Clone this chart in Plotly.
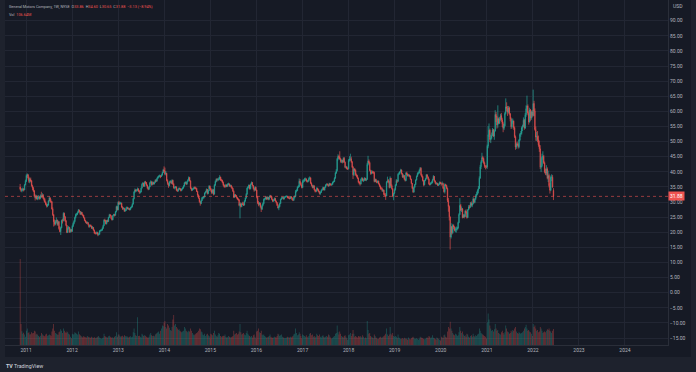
import pandas as pd
import plotly.graph_objects as go

# ---------------- weekly GM (NYSE) data ----------------
close_2010 = [34.3, 33.8, 34.0, 34.3, 34.0, 35.7, 36.9]
high_2010 = [36.0, 34.7, 34.5, 34.8, 34.6, 36.0, 37.4]
low_2010 = [33.9, 33.3, 33.2, 33.6, 33.5, 33.9, 35.5]
vol_2010 = [573, 140, 92, 75, 82, 70, 55]

close_2011 = [38.8, 39.0, 38.0, 36.8, 37.5, 37.0, 35.4, 34.6, 33.7, 32.0, 31.3, 31.9, 31.0, 31.5, 31.7, 31.2, 32.1, 31.8, 32.4, 31.3, 30.8, 30.0, 29.2, 28.7, 29.0, 30.4, 31.4, 30.2, 30.1, 27.7, 25.8, 23.5, 22.7, 23.6, 24.0, 22.6, 23.5, 21.2, 20.2, 21.5, 23.9, 23.8, 26.3, 25.1, 23.8, 22.3, 19.9, 21.3, 21.6, 20.1, 20.9, 20.3]
high_2011 = [39.2, 39.5, 39.3, 38.4, 38.0, 38.1, 37.3, 35.7, 35.0, 34.0, 32.5, 32.4, 32.3, 32.0, 32.3, 32.0, 32.5, 33.4, 33.0, 32.6, 31.6, 31.2, 30.2, 29.6, 29.4, 30.6, 31.9, 31.5, 30.9, 30.3, 28.2, 26.0, 24.2, 24.0, 24.9, 24.2, 23.9, 23.7, 22.0, 21.8, 24.2, 24.5, 26.6, 26.5, 25.4, 24.0, 22.4, 21.9, 22.1, 21.7, 21.2, 21.0]
low_2011 = [36.6, 37.9, 37.4, 36.3, 36.2, 36.6, 35.1, 33.9, 33.3, 31.6, 30.5, 31.0, 30.7, 30.6, 30.9, 30.8, 30.9, 31.4, 31.5, 31.0, 30.2, 29.7, 28.9, 28.2, 28.3, 28.8, 30.2, 29.8, 29.7, 27.5, 25.4, 21.9, 22.2, 22.3, 23.0, 22.2, 22.1, 20.8, 20.0, 19.1, 21.3, 22.9, 23.6, 23.8, 23.4, 22.0, 19.7, 19.8, 20.9, 19.8, 19.9, 20.0]
vol_2011 = [95, 110, 80, 85, 70, 72, 85, 78, 80, 95, 90, 70, 75, 68, 60, 55, 62, 80, 72, 65, 60, 58, 70, 75, 62, 65, 70, 66, 60, 90, 110, 140, 95, 80, 75, 70, 68, 85, 90, 105, 95, 80, 110, 95, 85, 80, 90, 85, 75, 70, 55, 45]

close_2012 = [22.0, 22.9, 23.6, 24.9, 25.9, 26.0, 26.6, 27.3, 26.9, 26.0, 26.6, 25.9, 25.6, 24.8, 23.9, 23.4, 23.0, 23.2, 22.5, 21.8, 22.3, 22.1, 21.3, 21.6, 20.7, 19.7, 19.7, 19.6, 19.9, 19.2, 19.3, 20.5, 20.6, 20.7, 21.3, 22.2, 24.0, 23.9, 22.8, 23.9, 23.6, 24.9, 25.8, 25.5, 24.6, 24.1, 25.5, 25.9, 25.6, 26.8, 28.5, 27.4, 29.9]
high_2012 = [22.3, 23.2, 24.0, 25.2, 26.2, 26.4, 26.9, 27.7, 27.5, 27.0, 26.9, 26.7, 26.1, 25.7, 24.9, 24.1, 23.6, 23.6, 23.3, 22.6, 22.5, 22.6, 22.2, 22.0, 21.7, 20.9, 20.2, 20.1, 20.3, 20.0, 19.7, 20.7, 20.9, 21.0, 21.6, 22.5, 24.3, 24.5, 24.0, 24.1, 24.2, 25.1, 26.1, 26.0, 25.6, 24.8, 25.7, 26.1, 26.1, 27.0, 28.8, 28.6, 30.2]
low_2012 = [20.1, 21.7, 22.6, 23.3, 24.6, 25.4, 25.7, 26.4, 26.5, 25.7, 25.8, 25.6, 25.2, 24.6, 23.7, 23.1, 22.7, 22.8, 22.3, 21.5, 21.6, 21.8, 21.1, 21.0, 20.5, 19.5, 19.3, 19.2, 19.4, 18.7, 18.9, 19.2, 20.2, 20.3, 20.5, 21.1, 22.0, 23.5, 22.6, 22.6, 23.3, 23.4, 24.7, 25.2, 24.4, 23.9, 24.0, 25.3, 25.2, 25.5, 26.6, 27.2, 27.3]
vol_2012 = [75, 70, 72, 85, 80, 75, 70, 90, 72, 65, 60, 55, 50, 58, 55, 52, 50, 60, 55, 52, 50, 48, 55, 50, 48, 52, 45, 48, 50, 55, 60, 50, 45, 42, 45, 50, 75, 60, 55, 52, 50, 58, 62, 55, 50, 48, 52, 45, 55, 60, 85, 55, 70]

close_2013 = [29.4, 29.6, 29.6, 28.3, 27.8, 27.9, 27.0, 27.2, 28.0, 28.2, 27.7, 27.8, 27.5, 28.2, 28.4, 29.3, 31.1, 33.3, 34.0, 33.8, 33.9, 34.4, 33.6, 33.2, 33.3, 34.6, 35.9, 36.2, 35.2, 36.6, 36.5, 35.6, 34.7, 34.2, 35.0, 36.4, 36.7, 35.7, 36.5, 36.0, 36.5, 37.2, 36.9, 37.8, 38.2, 38.5, 38.7, 38.4, 38.9, 39.7, 40.6, 40.2]
high_2013 = [30.4, 30.0, 30.1, 29.8, 28.6, 28.3, 28.1, 27.7, 28.3, 28.6, 28.3, 28.1, 28.0, 28.4, 28.8, 29.6, 31.3, 33.6, 34.5, 34.3, 34.3, 34.8, 34.5, 34.0, 33.8, 34.8, 36.2, 36.6, 36.4, 36.9, 37.0, 36.6, 35.8, 35.0, 35.3, 36.7, 37.2, 36.9, 36.8, 36.7, 36.8, 37.5, 37.6, 38.1, 38.6, 38.9, 39.1, 38.9, 39.2, 40.0, 41.0, 41.8]
low_2013 = [29.0, 29.1, 29.2, 28.1, 27.4, 27.5, 26.7, 26.8, 27.1, 27.8, 27.5, 27.4, 27.2, 27.3, 27.9, 28.2, 29.2, 30.9, 33.0, 33.4, 33.4, 33.6, 33.3, 32.7, 32.8, 33.2, 34.5, 35.6, 35.0, 35.1, 36.0, 35.3, 34.4, 33.9, 34.1, 34.9, 36.1, 35.4, 35.6, 35.8, 35.8, 36.4, 36.6, 36.8, 37.6, 38.0, 38.2, 37.9, 38.3, 38.8, 39.6, 39.9]
vol_2013 = [70, 60, 55, 58, 62, 55, 65, 60, 55, 60, 52, 50, 55, 58, 52, 55, 85, 110, 80, 65, 60, 185, 60, 62, 55, 50, 75, 68, 60, 65, 62, 55, 50, 48, 55, 70, 80, 65, 60, 62, 58, 70, 75, 80, 85, 90, 75, 95, 110, 130, 125, 150]

close_2014 = [39.3, 39.5, 37.1, 36.1, 35.4, 36.7, 36.8, 36.2, 37.2, 35.9, 34.7, 34.8, 35.0, 33.9, 33.6, 34.4, 34.5, 34.3, 33.8, 34.3, 34.6, 35.3, 36.3, 36.5, 35.9, 36.8, 37.2, 38.1, 37.0, 34.6, 33.9, 34.3, 34.4, 34.8, 34.6, 34.5, 33.5, 32.3, 31.3, 30.1, 29.5, 30.5, 31.4, 31.5, 31.7, 33.0, 33.4, 34.2, 32.8, 33.8, 35.3, 34.5]
high_2014 = [41.4, 40.3, 39.7, 37.5, 36.4, 36.9, 37.3, 37.0, 37.5, 37.4, 36.2, 35.2, 35.3, 35.2, 34.3, 34.6, 34.9, 34.7, 34.5, 34.5, 34.9, 35.6, 36.6, 36.9, 36.6, 37.0, 37.6, 38.5, 38.3, 37.2, 34.8, 34.6, 34.8, 35.1, 35.2, 35.0, 34.7, 33.7, 32.5, 31.5, 30.3, 30.8, 31.7, 31.9, 32.0, 33.2, 33.7, 34.5, 34.3, 34.0, 35.6, 35.4]
low_2014 = [38.9, 38.8, 36.8, 35.7, 34.7, 35.2, 36.3, 35.9, 36.0, 35.6, 34.4, 34.2, 34.5, 33.6, 33.4, 33.5, 34.0, 33.9, 33.5, 33.6, 34.1, 34.5, 35.1, 36.0, 35.6, 35.8, 36.7, 37.1, 36.8, 34.3, 33.6, 33.7, 34.0, 34.2, 34.3, 34.1, 33.3, 32.0, 31.1, 29.8, 28.8, 29.3, 30.3, 30.9, 31.1, 31.5, 32.8, 33.2, 32.5, 32.6, 33.6, 34.3]
vol_2014 = [160, 120, 110, 140, 130, 115, 100, 95, 120, 170, 200, 130, 140, 120, 110, 100, 105, 95, 90, 85, 90, 95, 120, 110, 95, 90, 85, 95, 90, 110, 95, 80, 70, 65, 70, 75, 80, 85, 95, 110, 105, 90, 85, 70, 65, 75, 60, 70, 75, 65, 60, 50]

close_2015 = [33.9, 33.1, 34.0, 32.6, 35.6, 36.8, 37.5, 37.4, 37.5, 37.6, 38.3, 37.2, 37.2, 36.5, 35.6, 35.1, 35.1, 35.6, 35.2, 35.9, 36.0, 35.3, 35.5, 34.9, 34.5, 33.6, 31.6, 32.4, 32.1, 31.5, 31.0, 30.7, 28.9, 29.4, 28.5, 29.4, 29.3, 29.0, 30.3, 31.3, 32.6, 34.6, 34.9, 35.6, 34.4, 35.9, 36.5, 35.5, 34.5, 33.9, 34.9, 34.0]
high_2015 = [34.7, 34.2, 34.4, 34.3, 35.9, 37.1, 37.8, 37.9, 37.9, 38.2, 38.9, 38.4, 37.7, 37.4, 36.8, 35.9, 35.6, 36.0, 35.9, 36.2, 36.4, 36.2, 35.8, 35.7, 35.2, 34.7, 33.8, 32.7, 32.6, 32.3, 31.7, 31.3, 31.0, 29.9, 29.8, 29.7, 30.1, 29.9, 30.6, 31.5, 32.9, 34.8, 35.3, 35.8, 35.7, 36.1, 36.8, 36.6, 35.6, 34.7, 35.2, 35.1]
low_2015 = [33.4, 32.6, 32.8, 32.2, 32.5, 35.3, 36.5, 36.8, 36.9, 37.1, 37.3, 37.0, 36.8, 36.2, 35.3, 34.8, 34.7, 34.9, 34.9, 35.0, 35.6, 35.0, 35.0, 34.6, 34.2, 33.3, 31.3, 31.4, 31.8, 31.2, 30.7, 30.4, 28.6, 24.6, 28.2, 28.3, 29.0, 28.7, 28.8, 30.1, 31.1, 32.4, 34.2, 34.6, 34.1, 34.2, 35.7, 35.2, 34.2, 33.4, 33.7, 33.8]
vol_2015 = [75, 70, 65, 80, 95, 70, 60, 55, 65, 80, 75, 60, 55, 58, 62, 60, 70, 55, 50, 52, 60, 55, 50, 52, 55, 60, 95, 70, 75, 80, 70, 75, 90, 140, 85, 70, 75, 80, 70, 65, 80, 95, 75, 65, 60, 55, 60, 50, 65, 70, 55, 45]

close_2016 = [31.6, 29.7, 29.2, 29.6, 28.4, 27.6, 28.9, 29.5, 30.9, 31.0, 31.6, 31.0, 31.6, 30.9, 31.5, 32.1, 31.8, 30.9, 30.3, 30.6, 31.2, 30.3, 29.8, 28.9, 28.0, 28.5, 29.5, 30.9, 31.4, 31.5, 31.0, 31.6, 31.7, 31.9, 31.9, 31.4, 31.4, 31.1, 31.8, 31.4, 30.8, 30.6, 31.5, 31.9, 33.5, 33.8, 34.9, 35.1, 36.9, 36.4, 35.6, 34.8]
high_2016 = [34.1, 32.0, 30.3, 30.0, 29.8, 28.6, 29.2, 29.9, 31.2, 31.4, 31.9, 31.8, 31.9, 31.7, 31.8, 32.4, 32.3, 31.9, 31.1, 30.9, 31.5, 31.4, 30.5, 30.0, 29.4, 28.9, 29.8, 31.1, 31.6, 31.8, 31.7, 31.8, 32.0, 32.1, 32.2, 32.0, 31.7, 31.6, 32.0, 31.9, 31.6, 31.0, 31.7, 32.2, 34.0, 34.2, 35.2, 35.6, 37.8, 37.6, 36.5, 35.8]
low_2016 = [31.2, 29.3, 28.6, 28.9, 28.1, 26.7, 27.4, 28.6, 29.3, 30.5, 30.8, 30.7, 30.8, 30.6, 30.6, 31.3, 31.4, 30.6, 30.0, 30.1, 30.4, 30.1, 29.5, 28.7, 27.9, 27.3, 28.3, 29.3, 30.7, 31.1, 30.8, 30.8, 31.4, 31.5, 31.6, 31.2, 31.1, 30.9, 31.0, 31.2, 30.6, 30.3, 30.4, 31.2, 31.6, 33.2, 33.6, 34.6, 34.9, 36.0, 35.3, 34.5]
vol_2016 = [90, 95, 110, 85, 80, 95, 70, 65, 70, 60, 55, 50, 52, 55, 60, 70, 55, 50, 48, 50, 55, 52, 50, 60, 75, 70, 60, 65, 70, 55, 50, 45, 48, 45, 50, 55, 52, 50, 55, 50, 55, 60, 70, 75, 110, 80, 65, 70, 85, 75, 60, 45]

close_2017 = [36.9, 37.0, 37.6, 37.6, 37.0, 36.8, 37.0, 37.8, 38.0, 36.2, 35.5, 34.8, 35.4, 34.1, 33.6, 33.6, 34.6, 34.0, 33.5, 32.8, 33.2, 33.9, 34.2, 34.8, 34.0, 34.9, 35.6, 35.8, 35.7, 35.4, 36.1, 35.8, 35.7, 35.9, 36.6, 36.8, 37.9, 39.6, 40.4, 44.2, 45.1, 44.9, 44.3, 43.4, 43.8, 43.2, 44.5, 43.2, 41.5, 41.6, 41.0, 41.0]
high_2017 = [37.4, 37.5, 38.0, 38.1, 37.9, 37.3, 37.4, 38.2, 38.5, 38.2, 36.5, 35.7, 35.7, 35.5, 34.3, 34.0, 34.9, 34.7, 34.3, 33.6, 33.5, 34.1, 34.5, 35.1, 34.9, 35.1, 35.9, 36.2, 36.2, 35.9, 36.4, 36.3, 36.1, 36.2, 36.8, 37.1, 38.2, 39.9, 40.9, 44.6, 45.8, 45.5, 46.8, 44.6, 44.1, 44.0, 44.8, 44.9, 43.4, 42.0, 41.9, 41.4]
low_2017 = [34.6, 36.4, 36.7, 37.0, 36.7, 36.4, 36.5, 36.8, 37.4, 36.0, 35.2, 34.5, 34.6, 33.9, 33.2, 33.2, 33.4, 33.8, 33.2, 32.5, 32.4, 33.0, 33.7, 34.0, 33.8, 33.8, 34.7, 35.4, 35.4, 35.0, 35.2, 35.5, 35.3, 35.4, 35.7, 36.3, 36.6, 37.7, 39.3, 40.1, 43.8, 44.3, 43.9, 43.0, 42.9, 42.8, 43.0, 43.0, 41.2, 41.1, 40.8, 40.6]
vol_2017 = [70, 65, 60, 55, 65, 55, 50, 60, 75, 80, 65, 70, 55, 60, 50, 55, 75, 65, 60, 70, 55, 50, 60, 65, 55, 50, 55, 60, 55, 70, 65, 55, 45, 42, 48, 55, 60, 75, 80, 130, 85, 70, 90, 75, 60, 55, 50, 60, 65, 55, 45, 35]

close_2018 = [43.8, 44.3, 44.3, 43.3, 41.6, 39.0, 40.9, 40.5, 39.0, 38.5, 37.9, 36.6, 36.3, 36.0, 37.5, 37.8, 37.1, 37.3, 37.9, 37.2, 37.5, 42.4, 43.6, 43.0, 40.4, 39.4, 40.0, 39.8, 39.8, 36.8, 37.5, 36.8, 36.5, 36.9, 36.0, 35.3, 34.4, 34.4, 33.7, 33.9, 32.5, 32.3, 32.0, 36.6, 37.1, 36.8, 34.8, 37.9, 35.4, 34.4, 31.9, 32.9, 34.1]
high_2018 = [44.2, 45.2, 46.0, 45.0, 43.6, 41.9, 41.2, 41.3, 40.8, 39.4, 39.0, 38.1, 36.9, 36.9, 37.8, 38.3, 38.1, 37.7, 38.2, 38.0, 37.8, 43.0, 45.3, 44.1, 43.3, 40.7, 40.5, 40.4, 40.3, 40.1, 37.8, 37.7, 37.1, 37.2, 37.1, 36.2, 35.5, 35.0, 34.8, 34.3, 34.1, 33.0, 32.9, 36.9, 38.4, 37.6, 37.1, 38.5, 38.0, 35.8, 34.6, 33.1, 34.5]
low_2018 = [40.8, 43.4, 43.6, 43.0, 41.3, 37.6, 38.6, 40.0, 38.7, 38.2, 37.6, 36.2, 35.8, 35.4, 35.8, 37.0, 36.8, 36.6, 37.0, 37.0, 36.9, 37.3, 42.1, 42.7, 40.1, 39.0, 39.2, 39.4, 39.3, 36.5, 36.6, 36.5, 36.2, 36.2, 35.8, 35.0, 34.1, 34.1, 33.4, 33.3, 32.2, 31.9, 30.7, 31.9, 36.4, 36.2, 34.5, 34.6, 35.1, 34.1, 31.6, 30.6, 32.6]
vol_2018 = [65, 70, 80, 60, 75, 100, 75, 55, 60, 55, 50, 60, 55, 60, 55, 50, 65, 55, 45, 50, 45, 160, 100, 75, 80, 60, 55, 50, 45, 70, 60, 50, 45, 40, 42, 50, 55, 48, 50, 55, 60, 65, 75, 110, 70, 60, 70, 120, 75, 65, 80, 60, 55]

close_2019 = [35.6, 37.1, 36.9, 39.2, 39.4, 40.0, 40.6, 39.4, 38.3, 38.8, 37.6, 37.1, 39.6, 39.2, 38.7, 38.9, 38.6, 37.6, 36.2, 34.6, 33.3, 34.9, 35.8, 37.3, 38.5, 39.5, 39.6, 40.5, 41.2, 39.0, 38.4, 37.1, 35.7, 37.1, 37.7, 39.0, 38.3, 37.6, 36.0, 35.8, 36.2, 36.4, 37.4, 38.5, 37.0, 36.4, 36.0, 36.1, 35.5, 35.9, 36.5, 36.1]
high_2019 = [35.9, 37.6, 37.4, 39.5, 39.9, 40.3, 41.0, 40.8, 39.6, 39.2, 38.9, 37.8, 39.9, 40.1, 39.4, 39.3, 39.1, 38.8, 37.7, 36.3, 34.8, 35.2, 36.0, 37.5, 38.8, 39.8, 40.1, 40.8, 41.6, 41.5, 39.3, 38.6, 37.3, 37.3, 38.0, 39.3, 39.2, 38.5, 37.8, 36.3, 36.6, 36.9, 37.7, 38.9, 38.6, 37.2, 36.6, 36.5, 36.3, 36.1, 36.8, 36.7]
low_2019 = [33.8, 35.3, 36.3, 36.6, 38.9, 39.1, 39.8, 39.1, 38.0, 38.0, 37.3, 36.8, 36.9, 38.9, 38.4, 38.4, 38.2, 37.3, 35.9, 34.3, 33.0, 33.1, 34.7, 35.6, 37.1, 38.3, 39.1, 39.4, 40.3, 38.7, 38.1, 36.8, 35.2, 35.5, 36.9, 37.5, 38.0, 37.3, 35.7, 35.4, 35.6, 36.0, 36.2, 37.2, 36.7, 36.1, 35.7, 35.8, 35.3, 35.3, 35.7, 35.9]
vol_2019 = [60, 55, 45, 70, 50, 45, 40, 42, 45, 40, 48, 42, 45, 40, 35, 50, 42, 38, 45, 50, 55, 48, 40, 42, 45, 40, 35, 42, 55, 50, 48, 45, 40, 38, 42, 48, 50, 45, 60, 55, 45, 50, 65, 48, 45, 40, 35, 50, 45, 40, 35, 30]

close_2020 = [36.0, 36.1, 34.6, 33.4, 35.8, 35.5, 34.5, 30.5, 28.5, 25.1, 18.4, 21.9, 19.8, 22.3, 21.7, 20.6, 20.9, 21.1, 21.4, 23.2, 25.9, 28.9, 27.3, 27.8, 24.9, 25.6, 25.2, 27.0, 26.5, 24.9, 27.4, 28.4, 28.3, 29.6, 28.9, 29.4, 31.0, 29.9, 30.9, 32.1, 32.6, 33.8, 34.5, 37.9, 41.7, 43.2, 44.7, 44.4, 43.0, 41.8, 41.7, 41.6]
high_2020 = [36.5, 36.8, 36.4, 34.9, 36.2, 36.0, 35.7, 34.8, 31.3, 28.9, 25.2, 23.0, 21.9, 22.8, 22.6, 22.0, 21.6, 21.9, 21.8, 23.5, 26.3, 31.3, 29.4, 28.5, 28.0, 26.0, 26.1, 27.3, 27.6, 26.8, 27.7, 29.0, 29.0, 30.0, 30.2, 29.8, 31.6, 31.4, 31.2, 32.6, 33.4, 34.2, 35.3, 38.5, 42.3, 43.8, 46.3, 45.3, 44.8, 43.4, 42.2, 42.3]
low_2020 = [35.4, 35.6, 34.3, 33.1, 32.8, 35.1, 34.2, 30.0, 26.8, 23.9, 14.3, 17.9, 19.2, 19.5, 21.0, 20.3, 20.0, 19.9, 20.6, 21.0, 23.0, 25.7, 27.0, 26.7, 24.6, 24.7, 24.6, 25.0, 26.2, 24.5, 24.7, 27.3, 27.8, 28.1, 28.5, 28.3, 29.2, 29.6, 29.6, 30.7, 31.5, 32.4, 32.9, 34.3, 37.7, 40.9, 42.9, 43.6, 42.5, 41.3, 40.8, 41.2]
vol_2020 = [55, 50, 48, 65, 70, 55, 50, 90, 120, 110, 155, 110, 95, 80, 70, 65, 75, 70, 60, 65, 85, 120, 95, 80, 90, 70, 60, 65, 55, 75, 70, 55, 50, 60, 65, 55, 75, 60, 55, 65, 60, 70, 75, 110, 95, 80, 75, 70, 65, 60, 55, 45]

close_2021 = [48.5, 52.3, 53.8, 50.7, 51.1, 52.0, 53.9, 51.8, 53.5, 59.0, 58.0, 55.5, 57.6, 56.1, 57.5, 58.6, 57.2, 55.9, 54.4, 55.2, 59.3, 61.5, 61.0, 59.8, 61.2, 59.2, 57.5, 54.9, 56.8, 56.8, 54.6, 51.6, 48.2, 49.2, 49.0, 48.3, 50.5, 52.4, 52.7, 54.6, 55.1, 57.1, 54.5, 58.9, 60.9, 61.8, 59.4, 56.5, 60.5, 57.8, 59.8, 58.6]
high_2021 = [49.0, 55.1, 56.0, 54.3, 52.3, 53.0, 54.5, 54.2, 54.0, 60.4, 59.8, 58.5, 62.0, 58.0, 58.1, 59.2, 59.5, 57.9, 56.6, 55.9, 59.8, 64.3, 63.0, 61.8, 61.8, 61.6, 59.5, 58.0, 57.7, 57.6, 57.0, 55.0, 52.0, 49.7, 50.0, 49.6, 50.8, 52.8, 53.5, 55.0, 55.6, 58.0, 57.5, 59.5, 62.0, 65.2, 62.3, 60.0, 61.2, 60.8, 60.2, 60.4]
low_2021 = [41.0, 47.8, 51.5, 49.8, 49.5, 50.7, 51.9, 51.5, 50.6, 53.3, 56.5, 54.3, 54.6, 55.8, 55.8, 56.9, 56.5, 54.8, 53.1, 53.8, 55.0, 59.0, 60.0, 58.5, 59.3, 58.7, 56.7, 54.2, 54.3, 55.9, 53.9, 51.2, 47.3, 47.6, 48.5, 47.7, 47.8, 50.2, 51.6, 52.3, 53.5, 54.8, 53.9, 54.2, 58.2, 59.8, 58.7, 55.6, 56.3, 56.9, 57.2, 58.0]
vol_2021 = [150, 210, 170, 130, 110, 95, 100, 90, 105, 140, 110, 95, 100, 80, 75, 70, 85, 95, 80, 70, 85, 130, 110, 90, 85, 75, 80, 95, 85, 100, 95, 110, 120, 90, 80, 75, 85, 80, 75, 80, 85, 95, 110, 120, 135, 110, 95, 100, 90, 85, 75, 60]

close_2022 = [62.6, 60.1, 54.0, 51.5, 51.7, 50.6, 48.9, 47.6, 41.5, 42.0, 45.0, 45.1, 43.0, 40.0, 39.5, 41.0, 37.9, 38.8, 35.4, 33.9, 38.2, 38.2, 35.01, 31.88]
high_2022 = [67.2, 63.5, 61.0, 55.0, 53.2, 53.5, 52.0, 50.3, 48.8, 44.5, 46.0, 46.8, 45.6, 43.4, 41.1, 42.2, 41.5, 40.4, 39.4, 36.3, 38.8, 39.2, 38.9, 34.60]
low_2022 = [58.3, 58.5, 53.6, 50.3, 50.2, 49.8, 48.3, 46.6, 40.9, 39.9, 41.5, 44.0, 42.6, 39.5, 38.9, 38.8, 37.5, 36.6, 34.8, 32.8, 33.6, 36.9, 34.7, 30.65]
vol_2022 = [140, 120, 130, 110, 95, 100, 85, 90, 120, 110, 95, 80, 85, 90, 85, 95, 105, 100, 110, 95, 90, 80, 95, 106.64]

# weekly open = previous close, except these gap opens
open_gaps = {"2010-11-15": 35.00, "2022-06-13": 33.86}
first_week = "2010-11-15"

year_tick_labels = [str(y) for y in range(2011, 2025)]
price_ticks = list(range(-15, 95, 5))

# ---------------- assemble ----------------
closes = (close_2010 + close_2011 + close_2012 + close_2013 + close_2014 + close_2015 + close_2016
          + close_2017 + close_2018 + close_2019 + close_2020 + close_2021 + close_2022)
highs = (high_2010 + high_2011 + high_2012 + high_2013 + high_2014 + high_2015 + high_2016
         + high_2017 + high_2018 + high_2019 + high_2020 + high_2021 + high_2022)
lows = (low_2010 + low_2011 + low_2012 + low_2013 + low_2014 + low_2015 + low_2016
        + low_2017 + low_2018 + low_2019 + low_2020 + low_2021 + low_2022)
vols = (vol_2010 + vol_2011 + vol_2012 + vol_2013 + vol_2014 + vol_2015 + vol_2016
        + vol_2017 + vol_2018 + vol_2019 + vol_2020 + vol_2021 + vol_2022)

dates = pd.date_range(first_week, periods=len(closes), freq="W-MON")
date_str = [d.strftime("%Y-%m-%d") for d in dates]
opens = []
for i, ds in enumerate(date_str):
    if ds in open_gaps:
        opens.append(open_gaps[ds])
    else:
        opens.append(closes[i - 1])

UP = "#26a69a"
DOWN = "#ef5350"
UP_C = "rgba(38,166,154,0.78)"
DOWN_C = "rgba(239,83,80,0.72)"
UP_V = "rgba(38,166,154,0.5)"
DOWN_V = "rgba(239,83,80,0.5)"
PANE = "#161a25"
FRAME = "#1e222d"
GRID = "#222633"
TXT = "#b2b5be"
vcolors = [UP_V if c >= o else DOWN_V for o, c in zip(opens, closes)]

fig = go.Figure()
fig.add_trace(go.Bar(
    x=dates, y=vols, yaxis="y2", width=5 * 86400000,
    marker=dict(color=vcolors, line=dict(width=0)), hoverinfo="skip"))
fig.add_trace(go.Candlestick(
    x=dates, open=opens, high=highs, low=lows, close=closes,
    increasing=dict(line=dict(color=UP_C, width=0.9), fillcolor=UP_C),
    decreasing=dict(line=dict(color=DOWN_C, width=0.9), fillcolor=DOWN_C),
    whiskerwidth=0, hoverinfo="skip"))

def fmt_price(v):
    s = f"{abs(v):.2f}"
    return ("\u2212" + s) if v < 0 else s

last_o, last_h, last_l, last_c = opens[-1], highs[-1], lows[-1], closes[-1]
chg = last_c - closes[-2]
pct = chg / closes[-2] * 100

def red(t):
    return f"<span style='color:{DOWN}'>{t}</span>"

sp = "&nbsp;&nbsp;"
legend1 = ("General Motors Company, 1W, NYSE" + sp
           + "O" + red(f"{last_o:.2f}") + sp + "H" + red(f"{last_h:.2f}") + sp
           + "L" + red(f"{last_l:.2f}") + sp + "C" + red(f"{last_c:.2f}") + sp
           + red(f"{fmt_price(chg)} ({fmt_price(pct)}%)"))
legend2 = "Vol" + sp + red(f"{vols[-1]:.2f}M")

W, H = 696, 372
ML, MR, MT, MB = 5, 28, 0, 27
pw = W - ML - MR
ph = H - MT - MB

fig.update_layout(
    width=W, height=H, margin=dict(l=ML, r=MR, t=MT, b=MB),
    paper_bgcolor=PANE, plot_bgcolor=PANE, showlegend=False,
    font=dict(family="Roboto, 'Noto Sans', sans-serif", color=TXT, size=5),
    xaxis=dict(type="date", range=["2010-07-18", "2024-12-07"],
               tickvals=[f"{y}-01-01" for y in year_tick_labels], ticktext=year_tick_labels,
               showgrid=True, gridcolor=GRID, gridwidth=1, ticks="", zeroline=False,
               showline=True, linecolor="#2a2e39", linewidth=1,
               tickfont=dict(size=5, color=TXT), rangeslider=dict(visible=False),
               fixedrange=True),
    yaxis=dict(side="right", range=[-17.31, 96.86], tickvals=price_ticks,
               ticktext=[fmt_price(v) for v in price_ticks],
               showgrid=True, gridcolor=GRID, gridwidth=1, ticks="", zeroline=False,
               showline=True, linecolor="#2a2e39", linewidth=1,
               tickfont=dict(size=5, color=TXT), fixedrange=True),
    yaxis2=dict(overlaying="y", range=[0, 2298], visible=False, fixedrange=True),
)

shapes = [
    dict(type="rect", xref="paper", yref="paper", x0=-ML / pw, x1=0, y0=-MB / ph, y1=1,
         fillcolor=FRAME, line=dict(width=0), layer="above"),
    dict(type="rect", xref="paper", yref="paper", x0=(691 - ML) / pw, x1=(W - ML) / pw,
         y0=-MB / ph, y1=1, fillcolor=FRAME, line=dict(width=0), layer="above"),
    dict(type="rect", xref="paper", yref="paper", x0=-ML / pw, x1=(W - ML) / pw,
         y0=-MB / ph, y1=(ph - 357) / ph, fillcolor=FRAME, line=dict(width=0), layer="above"),
    dict(type="line", xref="paper", yref="y", x0=0, x1=1, y0=last_c, y1=last_c,
         line=dict(color="rgba(239,83,80,0.75)", width=0.8, dash="dot")),
]
fig.update_layout(shapes=shapes)

annotations = [
    dict(xref="paper", yref="paper", x=0, y=1, xanchor="left", yanchor="middle",
         xshift=2, yshift=-6, text=legend1, showarrow=False,
         font=dict(size=3.8, color=TXT)),
    dict(xref="paper", yref="paper", x=0, y=1, xanchor="left", yanchor="middle",
         xshift=2, yshift=-14.5, text=legend2, showarrow=False,
         font=dict(size=3.8, color=TXT)),
    dict(xref="paper", yref="paper", x=1, y=1, xanchor="left", yanchor="middle",
         xshift=3, yshift=-6, text="USD", showarrow=False, font=dict(size=5, color=TXT)),
    dict(xref="paper", yref="y", x=1, y=last_c, xanchor="left", yanchor="middle",
         text=f"{last_c:.2f}", showarrow=False, bgcolor=DOWN, borderpad=1,
         font=dict(size=5, color="#ffffff")),
    dict(xref="paper", yref="paper", x=0, y=(ph - 365.5) / ph, xanchor="left",
         yanchor="middle", xshift=-1, text="<b>TV</b> TradingView", showarrow=False,
         font=dict(size=5.3, color="#d1d4dc")),
]
fig.update_layout(annotations=annotations)

fig.write_html("out.html", config={"displayModeBar": False},
               post_script="document.body.style.margin='0';document.body.style.overflow='hidden';")
